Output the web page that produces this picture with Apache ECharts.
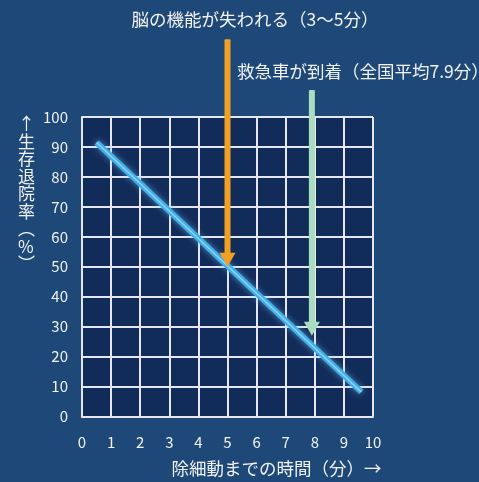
<!DOCTYPE html>
<html><head><meta charset="utf-8">
<script src="https://cdn.jsdelivr.net/npm/echarts@6/dist/echarts.min.js"></script>
<style>html,body{margin:0;padding:0;background:#1d4878;}#c{width:479px;height:482px;}</style>
</head><body><div id="c"></div>
<script>
const xTicks = [0,1,2,3,4,5,6,7,8,9,10];
const yTicks = [0,10,20,30,40,50,60,70,80,90,100];
const survivalLine = [[0.5, 91.5], [9.6, 8.2]];
const arrowLabels = ['脳の機能が失われる（3～5分）', '救急車が到着（全国平均7.9分）'];
const arrowX = [5, 7.9];
const arrowTop = [126, 109];
const arrowTip = [50, 27];
const arrowColors = ['#f2a024', '#a9dcc0'];
const yName = '↑生存退院率︵%︶';
const xName = '除細動までの時間（分）→';

const font = '"Noto Sans CJK JP", "Noto Sans", sans-serif';
const chart = echarts.init(document.getElementById('c'));
const arrowData = arrowX.map((x, i) => [x, arrowTop[i], arrowTip[i], i]);

chart.setOption({
  backgroundColor: '#1d4878',
  animation: false,
  title: [
    { text: arrowLabels[0], left: 250, top: 6, textAlign: 'center',
      textStyle: { color: '#f2f2f2', fontSize: 17.5, fontWeight: 'normal', fontFamily: font } },
    { text: arrowLabels[1], left: 232, top: 58,
      textStyle: { color: '#f2f2f2', fontSize: 17.5, fontWeight: 'normal', fontFamily: font } },
    { text: yName.split('').join('\n'), left: 13, top: 110,
      textStyle: { color: '#f2f2f2', fontSize: 17, lineHeight: 17.5, fontWeight: 'normal', fontFamily: font, align: 'center' } }
  ],
  grid: { left: 82, right: 106, top: 117, bottom: 62, show: true, backgroundColor: '#122c5a', borderWidth: 0 },
  xAxis: {
    type: 'value', min: 0, max: 10, interval: 1,
    name: xName, nameLocation: 'middle', nameGap: 43,
    nameTextStyle: { color: '#f2f2f2', fontSize: 17.5, fontFamily: font, padding: [0, 0, 0, 98] },
    axisLine: { show: true, lineStyle: { color: '#e6e6ee', width: 2 } },
    axisTick: { show: false },
    axisLabel: { color: '#f2f2f2', fontSize: 15, fontFamily: font, margin: 18,
      formatter: v => xTicks.includes(v) ? String(v) : '' },
    splitLine: { show: true, lineStyle: { color: '#e6e6ee', width: 2 } }
  },
  yAxis: {
    type: 'value', min: 0, max: 100, interval: 10,
    axisLine: { show: true, lineStyle: { color: '#e6e6ee', width: 2 } },
    axisTick: { show: false },
    axisLabel: { color: '#f2f2f2', fontSize: 15, fontFamily: font, margin: 14,
      formatter: v => yTicks.includes(v) ? String(v) : '' },
    splitLine: { show: true, lineStyle: { color: '#e6e6ee', width: 2 } }
  },
  series: [
    {
      type: 'line', data: survivalLine, symbol: 'none',
      lineStyle: { color: '#3fb0e8', width: 6, shadowColor: 'rgba(120,200,255,0.6)', shadowBlur: 6 },
      z: 3
    },
    {
      type: 'line', data: survivalLine, symbol: 'none',
      lineStyle: { color: '#8fd2f4', width: 1.5 }, z: 4
    },
    {
      type: 'custom', clip: false, z: 5,
      data: arrowData,
      renderItem: (params, api) => {
        const x = api.value(0);
        const top = api.coord([x, api.value(1)]);
        const tip = api.coord([x, api.value(2)]);
        const c = arrowColors[api.value(3)];
        const hw = 4, head = 14, hh = 8;
        return {
          type: 'group',
          children: [
            { type: 'rect', shape: { x: top[0] - hw / 2 - 1, y: top[1], width: hw + 2, height: tip[1] - top[1] - head + 2, r: 1 },
              style: { fill: c } },
            { type: 'polygon', shape: { points: [[tip[0] - hh, tip[1] - head], [tip[0] + hh, tip[1] - head], [tip[0], tip[1]]] },
              style: { fill: c } }
          ]
        };
      }
    }
  ]
});
</script></body></html>
